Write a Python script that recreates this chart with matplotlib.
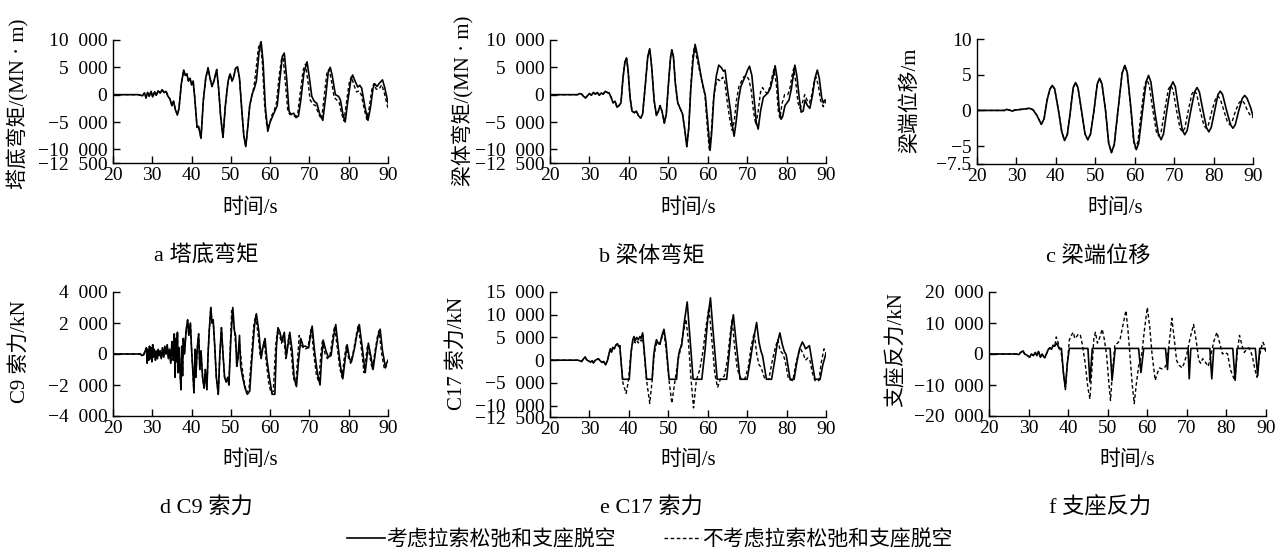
import numpy as np
import matplotlib
matplotlib.use('Agg')
import matplotlib.pyplot as plt
from matplotlib.ticker import FuncFormatter
from matplotlib.lines import Line2D

plt.rcParams['font.family'] = ['Liberation Serif', 'Noto Sans CJK SC']
plt.rcParams['axes.unicode_minus'] = True

# (time s, value) pairs
a_common = [(20, 0), (26.5, 0), (27.5, -200), (28.0, 300), (28.4, -600), (28.8, 400), (29.2, -300),
            (29.7, 600), (30.1, -400), (30.6, 500), (31.0, -100), (31.5, 700), (32.0, 300), (32.5, 900),
            (33.0, 400), (33.5, 600), (34.0, -300), (34.5, -800), (35.0, -2000), (35.4, -1200),
            (35.9, -2800), (36.4, -3700), (36.8, -2500), (37.4, 2000), (38.0, 4500), (38.4, 3500),
            (38.8, 3800), (39.2, 2500), (39.6, 3000), (40.0, 1800), (40.4, 2500), (40.8, -500),
            (41.4, -6000), (41.8, -5800), (42.4, -8000), (43.0, -1000), (43.6, 3000), (44.2, 4900),
            (44.7, 3000), (45.2, 1500), (45.7, 2500), (46.4, 4600), (46.9, 1000), (47.4, -4000),
            (48.0, -7800), (48.6, -2000), (49.3, 2500), (49.8, 3800), (50.3, 2500), (50.7, 3200),
            (51.2, 4800), (51.7, 5100), (52.2, 3000), (52.8, -3000), (53.3, -7500), (53.8, -9500),
            (54.3, -6000), (54.8, -2000), (55.4, 0)]
a_solid_tail = [(56.0, 1200), (56.5, 2500), (57.2, 8000), (57.7, 9700), (58.2, 6000), (58.8, -2500),
                (59.4, -6700), (60.0, -5000), (60.6, -4000), (61.2, -3000), (61.8, -2000), (62.5, 3000),
                (63.1, 7000), (63.6, 7600), (64.2, 3000), (64.8, -3000), (65.3, -3600), (66.0, -3400),
                (66.6, -4200), (67.2, -3900), (67.8, -1000), (68.6, 4000), (69.4, 6000), (70.0, 3000),
                (70.6, -300), (71.2, -1200), (71.9, -1600), (72.6, -3500), (73.4, -4700), (74.2, 0),
                (74.8, 4200), (75.3, 5000), (75.8, 3500), (76.6, 0), (77.4, -300), (77.9, -1000),
                (78.5, -3500), (79.1, -5000), (79.8, -1000), (80.5, 2500), (81.0, 3600), (81.6, 2500),
                (82.3, 1400), (82.8, 1700), (83.3, 1200), (84.2, -2500), (84.9, -4700), (85.5, -2500),
                (86.2, 1200), (86.6, 2000), (87.2, 1500), (87.7, 2000), (88.6, 2700), (89.2, 1200),
                (89.7, -500), (90, -1500)]
a_dashed_tail = [(55.9, 1500), (56.4, 4500), (57.0, 8500), (57.5, 9500), (58.0, 6000), (58.6, -2000),
                 (59.2, -6000), (59.8, -5500), (60.4, -3800), (61.0, -3000), (61.6, -1500), (62.3, 3500),
                 (62.9, 6500), (63.3, 6800), (63.9, 2000), (64.5, -3000), (65.0, -3600), (65.8, -3800),
                 (66.5, -4000), (67.0, -3600), (67.6, 0), (68.4, 4500), (69.0, 5600), (69.6, 2500),
                 (70.2, -1000), (71.0, -1800), (71.6, -2000), (72.3, -3500), (73.1, -4500), (73.8, 0),
                 (74.5, 4300), (75.0, 4600), (75.5, 3000), (76.3, -500), (77.0, -1000), (77.6, -1500),
                 (78.2, -3500), (78.8, -4800), (79.5, -1000), (80.2, 2500), (80.7, 3300), (81.3, 1800),
                 (82.0, 500), (82.6, 700), (83.2, 0), (84.0, -2800), (84.6, -4500), (85.2, -2500),
                 (85.9, 1000), (86.4, 2000), (87.0, 1000), (87.7, 1000), (88.4, 1800), (89.0, 500),
                 (89.5, -1000), (90, -2500)]

b_common = [(20, 0), (27.0, 0), (27.5, 200), (28.0, 100), (28.5, -300), (29.0, -600), (29.5, -200),
            (30.0, 200), (30.5, -100), (31.0, 400), (31.5, 100), (32.0, 400), (32.5, -100), (33.0, 300),
            (33.5, 100), (34.0, 600), (34.5, 400), (35.0, 300), (35.5, -500), (36.0, -1500),
            (36.5, -1200), (37.0, -2300), (37.5, -2000), (38.0, -1500), (38.5, 3000), (39.0, 6000),
            (39.4, 6700), (39.8, 4500), (40.3, -500), (40.8, -3000), (41.4, -3300), (41.9, -3000),
            (42.4, -3800), (43.0, -4300), (43.5, -3500), (44.2, 2000), (44.8, 7000), (45.3, 8400),
            (45.8, 5000), (46.4, -1000), (47.0, -3800), (47.5, -3000), (47.9, -2000), (48.4, -3000),
            (49.0, -5200), (49.5, -3500), (50.2, 3500), (50.6, 7000), (50.9, 8200), (51.3, 7000),
            (51.8, 2000), (52.4, -1500), (53.0, -2500), (53.6, -3500), (54.2, -6500), (54.7, -9500),
            (55.2, -6000)]
b_solid_tail = [(55.7, 1000), (56.3, 6500), (56.8, 9200), (57.3, 7500), (57.8, 5500), (58.4, 3000),
                (59.0, 1000), (59.4, -200), (60.0, -5000), (60.6, -10200), (61.0, -7000), (61.6, 0),
                (62.2, 3500), (62.8, 5400), (63.4, 5000), (64.0, 4300), (64.4, 4500), (65.0, 1000),
                (65.8, -3000), (66.2, -5500), (66.7, -7600), (67.2, -5000), (67.8, -1000), (68.4, 1500),
                (69.0, 2500), (69.6, 3500), (70.1, 4500), (70.6, 5200), (71.2, 3500), (71.8, -1000),
                (72.3, -5000), (72.8, -6300), (73.4, -3000), (74.1, -500), (74.8, 0), (75.4, 500),
                (75.9, 1200), (76.5, 3000), (77.1, 5300), (77.6, 3000), (78.1, -2500), (78.6, -4500),
                (79.0, -4000), (79.6, -2000), (80.1, -1500), (80.6, -1000), (81.2, 1000), (81.7, 3500),
                (82.1, 5400), (82.6, 3500), (83.2, -500), (83.7, -3200), (84.2, -3000), (84.7, -1000),
                (85.3, -2000), (85.9, -2500), (86.6, 0), (87.2, 3000), (87.8, 4500), (88.3, 3000),
                (88.9, -500), (89.3, -1500), (89.7, -1000), (90, -1000)]
b_dashed_tail = [(55.7, 1500), (56.2, 7000), (56.6, 8600), (57.0, 7500), (57.6, 5500), (58.2, 3500),
                 (58.8, 1500), (59.3, 0), (59.9, -6000), (60.4, -10000), (60.9, -7000), (61.5, -500),
                 (62.1, 2000), (62.6, 2800), (63.2, 2500), (63.8, 3200), (64.3, 2500), (64.9, -1000),
                 (65.6, -4500), (66.2, -6500), (66.7, -5000), (67.3, -1000), (67.9, 1500), (68.6, 2500),
                 (69.2, 3300), (69.8, 3500), (70.4, 2800), (71.0, 1000), (71.6, -3000), (72.2, -5500),
                 (72.8, -3000), (73.4, 500), (73.9, 1300), (74.5, 600), (75.2, 200), (75.8, 1500),
                 (76.4, 3500), (76.8, 4600), (77.4, 2000), (77.9, -3000), (78.3, -4300), (78.9, -1500),
                 (79.5, 0), (80.3, 0), (80.8, 1000), (81.4, 3500), (81.8, 4800), (82.3, 2500),
                 (82.9, -1500), (83.4, -2500), (84.0, -1500), (84.6, 0), (85.2, -1000), (85.8, -1500),
                 (86.4, 0), (87.0, 2500), (87.5, 3200), (88.1, 1500), (88.6, -1000), (89.3, -2200),
                 (90, -1200)]

c_common = [(20, 0), (27, 0), (27.5, 0.15), (28.2, 0.05), (29, -0.1), (29.5, 0.05), (30.5, 0.1),
            (32, 0.2), (33.3, 0.3), (34.2, 0.1), (35.2, -0.7), (36.3, -1.95), (37.0, -1.2), (37.8, 1.5),
            (38.5, 3.0), (39.1, 3.5), (39.7, 3.0), (40.6, 0.2), (41.5, -3.0), (42.2, -4.2), (42.9, -3.4),
            (43.6, -0.5), (44.4, 3.2), (45.0, 3.9), (45.6, 3.2), (46.5, 0.0), (47.4, -3.3), (48.1, -4.1),
            (48.8, -3.3), (49.6, -0.3), (50.5, 3.7), (51.1, 4.5), (51.7, 3.7), (52.6, 0.0), (53.4, -4.6),
            (54.1, -5.9), (54.8, -4.8), (55.8, 0.2), (56.8, 5.2), (57.5, 6.3), (58.1, 5.3)]
c_solid_tail = [(59.0, 0.5), (59.8, -4.3), (60.4, -5.5), (61.0, -4.6), (62.0, 0.0), (62.9, 4.0),
                (63.5, 4.9), (64.1, 4.0), (65.1, -0.2), (66.0, -3.3), (66.7, -4.1), (67.3, -3.3),
                (68.2, 0.2), (69.1, 3.3), (69.7, 4.0), (70.3, 3.3), (71.2, 0.0), (72.1, -2.8),
                (72.7, -3.4), (73.3, -2.8), (74.3, 0.2), (75.2, 2.6), (75.8, 3.2), (76.4, 2.6),
                (77.3, 0.0), (78.2, -2.4), (78.8, -3.0), (79.4, -2.4), (80.3, 0.0), (81.1, 2.2),
                (81.7, 2.7), (82.3, 2.2), (83.3, 0.0), (84.3, -2.0), (84.9, -2.5), (85.5, -2.0),
                (86.4, 0.0), (87.3, 1.7), (87.9, 2.1), (88.5, 1.7), (89.4, 0.4), (90, -0.8)]
c_dashed_tail = [(59.0, 0.3), (59.7, -4.3), (60.2, -5.3), (60.8, -4.4), (61.7, 0.0), (62.5, 3.5),
                 (63.1, 4.3), (63.7, 3.5), (64.6, 0.0), (65.5, -3.0), (66.1, -3.6), (66.7, -3.0),
                 (67.6, 0.0), (68.5, 2.9), (69.1, 3.5), (69.7, 2.9), (70.6, 0.0), (71.5, -2.5),
                 (72.1, -3.0), (72.7, -2.5), (73.6, 0.0), (74.5, 2.3), (75.1, 2.8), (75.7, 2.3),
                 (76.6, 0.0), (77.5, -2.0), (78.1, -2.5), (78.7, -2.0), (79.6, 0.0), (80.5, 1.6),
                 (81.1, 2.0), (81.7, 1.6), (82.6, 0.0), (83.5, -1.6), (84.1, -2.0), (84.7, -1.6),
                 (85.6, 0.0), (86.5, 1.1), (87.1, 1.4), (87.7, 1.1), (88.6, 0.0), (89.4, -0.8),
                 (90, -1.0)]

d_common = [(20, 0), (27.0, 0), (27.3, -100), (27.8, -50), (28.2, 200), (28.5, 400), (28.7, -600),
            (28.9, 300), (29.1, -400), (29.3, 500), (29.5, -300), (29.7, 400), (29.9, -500), (30.1, 600),
            (30.3, -200), (30.5, 300), (30.8, -400), (31.0, 200), (31.3, -300), (31.5, 300), (31.8, -100),
            (32.0, 200), (32.3, -300), (32.6, 400), (32.9, -200), (33.2, 500), (33.5, 0), (33.8, 600),
            (34.1, -300), (34.4, 300), (34.7, -600), (35.0, 800), (35.3, -400), (35.6, 1300),
            (35.8, -1500), (36.0, 1000), (36.2, -500), (36.4, 1400), (36.6, -1200), (36.8, 400),
            (37.0, -800), (37.3, -2300), (37.5, 500), (37.7, -1400), (37.9, 1000), (38.2, 0),
            (38.6, 1500), (39.0, 2200), (39.3, 1200), (39.7, 2000), (40.0, 300), (40.3, -1000),
            (40.6, -2500), (40.9, 300), (41.1, -1500), (41.4, 200), (41.8, 1300), (42.1, -1000),
            (42.4, 200), (42.8, -1500), (43.2, -2200), (43.5, -1000), (43.9, -2300), (44.2, 0),
            (44.5, 1500), (44.9, 3000), (45.2, 2000), (45.5, 2200), (45.9, 500), (46.3, -1500),
            (46.8, -2600), (47.2, 0), (47.6, 1700), (48.0, 0), (48.4, -1500), (48.8, -1800),
            (49.2, -1500), (49.5, -2000)]
d_solid_tail = [(50.0, 1000), (50.5, 3000), (50.9, 1500), (51.2, 1200), (51.5, -800), (51.8, -300),
                (52.2, 1200), (52.5, -800), (53.0, -1500), (53.6, -2200), (54.2, -2600), (54.8, -2400),
                (55.3, -500), (56.0, 1800), (56.5, 2600), (57.1, 1500), (57.7, -300), (58.2, 500),
                (58.7, 1000), (59.2, -400), (59.8, -1500), (60.5, -2600), (61.2, -2600), (61.6, 500),
                (62.0, 1700), (62.5, 1400), (63.0, 800), (63.6, 1400), (64.1, -200), (64.6, 700),
                (65.0, 1400), (65.6, 200), (66.1, -1500), (66.7, -2100), (67.2, -500), (67.8, 1000),
                (68.4, 500), (69.0, 500), (69.8, 400), (70.4, 1400), (70.7, 1800), (71.3, 200),
                (72.0, -1200), (72.7, -2000), (73.1, -300), (73.5, 900), (74.2, 200), (74.8, -200),
                (75.5, -100), (76.2, 1200), (76.7, 1900), (77.3, 500), (77.9, -800), (78.5, -1600),
                (79.1, -300), (79.6, 600), (80.2, -300), (80.7, -500), (81.5, 400), (82.1, 1300),
                (82.7, 1900), (83.4, 500), (84.2, -1200), (84.6, -300), (85.0, 700), (85.6, -100),
                (86.2, -1000), (86.9, 300), (87.5, 1200), (88.0, 1600), (88.6, 200), (89.3, -800),
                (90, -400)]
d_dashed_tail = [(50.2, 2800), (50.8, 1800), (51.3, 300), (51.8, -300), (52.2, 700), (52.8, -800),
                 (53.4, -1800), (54.0, -2500), (54.6, -2300), (55.2, -300), (55.8, 1800), (56.3, 2500),
                 (56.9, 1300), (57.5, -200), (58.0, 300), (58.5, 800), (59.0, -500), (59.6, -1800),
                 (60.2, -2500), (60.8, -2400), (61.4, 500), (61.8, 1400), (62.3, 1300), (62.9, 700),
                 (63.4, 1200), (64.0, -300), (64.4, 500), (64.8, 1200), (65.4, 0), (65.9, -1500),
                 (66.5, -2000), (67.0, -300), (67.4, 1200), (68.1, 500), (68.8, 300), (69.6, 400),
                 (70.2, 1300), (70.5, 1700), (71.1, 0), (71.8, -1400), (72.4, -1800), (72.9, 0),
                 (73.3, 800), (74.0, 0), (74.6, -300), (75.3, 0), (76.0, 1200), (76.4, 1800),
                 (77.1, 400), (77.7, -900), (78.3, -1500), (78.9, -200), (79.4, 500), (80.0, -300),
                 (80.5, -600), (81.3, 300), (81.9, 1200), (82.4, 1800), (83.2, 400), (83.9, -1200),
                 (84.4, -200), (84.8, 600), (85.4, -200), (86.0, -1000), (86.7, 200), (87.3, 1100),
                 (87.7, 1500), (88.4, 0), (89.1, -1000), (90, -600)]

e_common = [(20, 0), (27.0, 0), (27.5, -100), (28.0, -300), (28.5, 300), (28.9, 700), (29.3, 100),
            (29.8, -200), (30.3, -400), (30.7, -100), (31.0, -600), (31.5, 0), (32.0, 200), (32.3, 300),
            (32.8, -200), (33.2, -500), (33.6, -300), (34.1, -1000), (34.6, 0), (35.0, 1500),
            (35.3, 2500), (35.6, 1800), (35.9, 2800), (36.3, 2500), (36.7, 3300), (37.1, 3600),
            (37.4, 3000), (37.7, 3200)]
e_solid_tail = [(38.0, 0), (38.4, -4200), (40.1, -4200), (40.6, 2000), (41.0, 4500), (41.3, 5200),
                (41.6, 4300), (42.0, 5000), (42.4, 4500), (42.8, 5200), (43.1, 4800), (43.5, 6000),
                (43.9, 2000), (44.5, -4200), (45.9, -4200), (46.3, 1000), (46.6, 3000), (47.0, 4500),
                (47.4, 3800), (47.9, 3500), (48.4, 5500), (48.9, 6800), (49.4, 4000), (50.2, -4200),
                (52.1, -4200), (52.5, 500), (52.9, 2300), (53.4, 3200), (54.0, 8000), (54.8, 12800),
                (55.4, 6000), (56.3, -4200), (58.5, -4200), (59.3, 2000), (60.0, 9000), (60.7, 13700),
                (61.3, 7000), (62.4, -4200), (64.8, -4200), (65.6, 3000), (66.0, 7000), (66.5, 10000),
                (67.2, 4000), (68.2, -4200), (70.0, -4200), (70.8, 0), (71.6, 4500), (72.4, 8300),
                (73.0, 4000), (73.5, 2000), (73.9, 1000), (74.9, -4200), (76.2, -4200), (77.0, 0),
                (77.6, 3500), (78.3, 6000), (78.9, 3500), (79.4, 2000), (79.9, 1200), (80.9, -4200),
                (81.9, -4200), (82.6, -500), (83.3, 2500), (84.0, 4000), (84.5, 3200), (84.8, 2500),
                (85.3, 2800), (85.8, 3200), (86.4, 0), (87.2, -4200), (88.5, -4200), (89.2, -1000),
                (90, 1500)]
e_dashed_tail = [(38.0, 0), (38.5, -5000), (39.3, -7300), (39.9, -4500), (40.5, 1500), (41.0, 4000),
                 (41.3, 4500), (41.6, 3800), (42.0, 4300), (42.4, 3800), (42.8, 4500), (43.2, 4200),
                 (43.5, 5500), (43.9, 1500), (44.5, -4500), (45.3, -9500), (45.9, -4500), (46.4, 1000),
                 (46.8, 3000), (47.2, 4000), (47.7, 3500), (48.4, 5000), (48.9, 6000), (49.5, 2000),
                 (50.2, -4500), (50.9, -9500), (51.7, -4500), (52.5, 0), (53.1, 2500), (53.8, 6000),
                 (54.5, 9000), (55.1, 4000), (55.8, -4500), (56.4, -10500), (57.1, -4500), (58.0, -2000),
                 (58.8, 2000), (59.5, 7000), (60.3, 11500), (60.9, 6000), (61.8, -3000), (62.5, -6000),
                 (63.2, -4200), (64.2, -3500), (65.0, 0), (65.6, 5000), (66.2, 9000), (66.8, 3000),
                 (67.5, -2000), (68.4, -4000), (69.4, -4200), (70.3, -1500), (71.0, 3000), (71.8, 6000),
                 (72.4, 1500), (73.0, -1000), (73.5, -1500), (74.5, -4200), (75.5, -4200), (76.4, 0),
                 (77.2, 3000), (77.8, 4500), (78.4, 2000), (79.0, 1500), (79.6, 0), (80.5, -4200),
                 (81.6, -4500), (82.3, -1000), (83.0, 1500), (83.5, 2500), (84.2, 1500), (84.8, 0),
                 (85.4, 500), (85.9, 0), (86.6, -3000), (87.2, -4500), (88.2, -4500), (88.8, -500),
                 (89.5, 2500), (90, 1500)]

f_common = [(20, 0), (27.0, 0), (27.5, -200), (28.0, 500), (28.6, 1000), (29.0, 0), (29.5, -300),
            (30.0, -800), (30.3, -1000), (30.7, 0), (31.2, -500), (31.7, 500), (32.1, -500), (32.5, 800),
            (33.0, -1000), (33.4, 0), (33.8, -800), (34.1, -1200), (34.5, 0), (35.0, 1500), (35.4, 2000),
            (35.8, 1500), (36.2, 2800), (36.6, 2500)]
f_solid_tail = [(37.1, 3500), (37.4, 2800), (37.7, 1800), (38.3, 1800), (38.8, -6000), (39.3, -11000),
                (39.8, -3000), (40.3, 1800), (45.0, 1800), (45.5, -9000), (46.1, 1800), (50.6, 1800),
                (51.1, -8500), (51.9, 1800), (57.8, 1800), (58.4, -6000), (59.1, 1800), (64.6, 1800),
                (65.1, -5000), (65.4, 1800), (70.3, 1800), (70.6, -8000), (71.0, 1800), (75.8, 1800),
                (76.3, -8000), (76.8, 1800), (81.6, 1800), (82.2, -8500), (82.7, 1800), (87.3, 1800),
                (87.9, -7000), (88.4, 1800), (89.6, 1800), (90, 1000)]
f_dashed_tail = [(37.0, 5500), (37.4, 4000), (37.8, 2000), (38.3, 0), (38.8, -6000), (39.3, -11500),
                 (39.8, -3000), (40.3, 4500), (40.8, 6000), (41.3, 7000), (41.7, 5000), (42.1, 5500),
                 (42.6, 6500), (43.1, 6000), (43.6, 3000), (44.3, -3000), (45.0, -11000), (45.5, -14500),
                 (46.0, -5000), (46.5, 5000), (46.9, 7000), (47.4, 3500), (47.9, 5000), (48.6, 8000),
                 (49.1, 5000), (49.7, 0), (50.2, -8000), (50.7, -15000), (51.2, -6000), (51.8, 3000),
                 (52.5, 3500), (53.1, 4500), (53.8, 9000), (54.6, 14000), (55.1, 8000), (55.6, 0),
                 (56.2, -10000), (56.7, -16000), (57.2, -10000), (57.8, -4000), (58.6, 0), (59.3, 8000),
                 (60.0, 15000), (60.6, 9000), (61.2, 0), (62.0, -8500), (62.6, -6000), (63.1, -4500),
                 (63.7, -4800), (64.3, -4500), (64.8, -3500), (65.5, 3000), (66.2, 11500), (66.8, 5000),
                 (67.4, -2000), (67.9, -3500), (68.4, -4000), (68.8, -4500), (69.3, -3000), (70.0, 0),
                 (70.8, 5000), (71.7, 9500), (72.4, 4000), (73.0, -2000), (73.5, -3000), (74.0, -1500),
                 (74.6, -2500), (75.4, -4000), (76.0, -1000), (76.8, 4000), (77.6, 7000), (78.3, 3500),
                 (79.0, 0), (79.6, 500), (80.3, 0), (81.0, -5000), (81.6, -7000), (82.1, -8500),
                 (82.7, 0), (83.3, 6000), (83.9, 3000), (84.5, 500), (85.1, 1500), (85.6, 2000),
                 (86.1, 1000), (86.6, -1000), (87.2, -5000), (87.7, -7500), (88.3, -1000), (88.8, 2000),
                 (89.2, 3800), (89.7, 2500), (90, 1000)]

ylabels = ['塔底弯矩/(MN · m)', '梁体弯矩/(MN · m)', '梁端位移/m',
           'C9 索力/kN', 'C17 索力/kN', '支座反力/kN']
captions = ['a 塔底弯矩', 'b 梁体弯矩', 'c 梁端位移', 'd C9 索力', 'e C17 索力', 'f 支座反力']
yticks = [[-12500, -10000, -5000, 0, 5000, 10000],
          [-12500, -10000, -5000, 0, 5000, 10000],
          [-7.5, -5, 0, 5, 10],
          [-4000, -2000, 0, 2000, 4000],
          [-12500, -10000, -5000, 0, 5000, 10000, 15000],
          [-20000, -10000, 0, 10000, 20000]]
xticks = [20, 30, 40, 50, 60, 70, 80, 90]
legend_labels = ['考虑拉索松弛和支座脱空', '不考虑拉索松弛和支座脱空']

solid = [a_common + a_solid_tail, b_common + b_solid_tail, c_common + c_solid_tail,
         d_common + d_solid_tail, e_common + e_solid_tail, f_common + f_solid_tail]
dashed = [a_common + a_dashed_tail, b_common + b_dashed_tail, c_common + c_dashed_tail,
          d_common + d_dashed_tail, e_common + e_dashed_tail, f_common + f_dashed_tail]

W, H = 1286, 553
# axes boxes in pixels: left, top, right, bottom
boxes = [(113, 40, 388, 163), (550, 40, 826, 163), (977, 39, 1253, 164),
         (113, 292, 388, 416), (550, 292, 826, 417), (989, 292, 1266, 416)]
ylabel_pos = [(18, 104), (463, 101), (910, 100), (20, 352), (457, 353), (897, 350)]
xlabel_top = [198, 198, 198, 450, 450, 450]
caption_pos = [(206, 256), (652, 256), (1098, 256), (206, 507), (651, 507), (1100, 507)]

DASH = (0, (2.6, 1.8))


def tick_fmt(v, pos):
    # thousands groups are separated by a wide gap in the source figure
    a = abs(v)
    s = f"{int(round(a)):,}".replace(",", "  ") if a >= 1000 else f"{a:g}"
    return "\u2212" + s if v < 0 else s


fig = plt.figure(figsize=(W / 100, H / 100), dpi=100)

for i in range(6):
    l, t, r, b = boxes[i]
    ax = fig.add_axes([l / W, 1 - b / H, (r - l) / W, (b - t) / H])
    ds = np.array(dashed[i])
    ss = np.array(solid[i])
    ax.plot(ds[:, 0], ds[:, 1], color='black', lw=1.0, linestyle=DASH)
    ax.plot(ss[:, 0], ss[:, 1], color='black', lw=1.2)
    ax.set_xlim(20, 90)
    ax.set_ylim(yticks[i][0], yticks[i][-1])
    ax.set_xticks(xticks)
    ax.set_yticks(yticks[i])
    ax.yaxis.set_major_formatter(FuncFormatter(tick_fmt))
    for side in ['top', 'right']:
        ax.spines[side].set_visible(False)
    for side in ['left', 'bottom']:
        ax.spines[side].set_linewidth(1.0)
    ax.tick_params(direction='in', length=5, width=1.0, labelsize=14, pad=3)
    ax.tick_params(axis='y', pad=4)
    ax.set_xlabel('时间/s', fontsize=15)
    ax.xaxis.set_label_coords(0.5, (b - xlabel_top[i]) / (b - t))
    fig.text(ylabel_pos[i][0] / W, 1 - ylabel_pos[i][1] / H, ylabels[i], rotation=90,
             ha='center', va='center', fontsize=15)
    fig.text(caption_pos[i][0] / W, 1 - caption_pos[i][1] / H, captions[i],
             ha='center', va='center', fontsize=16)

handles = [Line2D([], [], color='black', lw=1.2),
           Line2D([], [], color='black', lw=1.0, linestyle=DASH)]
fig.legend(handles, legend_labels, loc='center', bbox_to_anchor=(650 / W, 1 - 540 / H),
           ncol=2, frameon=False, fontsize=15, handlelength=1.8, handletextpad=0.05,
           columnspacing=2.3)

fig.savefig('out.png', dpi=100)
